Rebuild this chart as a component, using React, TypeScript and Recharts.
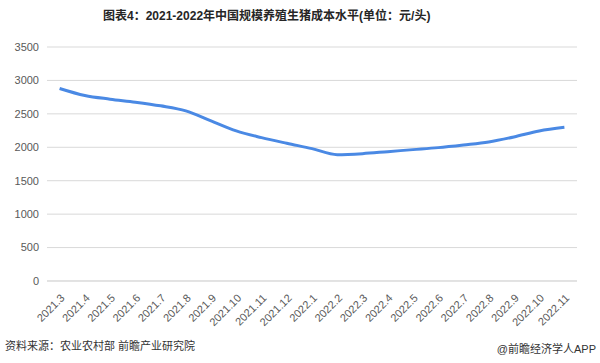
import { LineChart, Line, XAxis, YAxis, CartesianGrid } from "recharts";

const months = [
  "2021.3", "2021.4", "2021.5", "2021.6", "2021.7", "2021.8", "2021.9",
  "2021.10", "2021.11", "2021.12", "2022.1", "2022.2", "2022.3", "2022.4",
  "2022.5", "2022.6", "2022.7", "2022.8", "2022.9", "2022.10", "2022.11"
];

const cost = [
  2880, 2775, 2720, 2675, 2620, 2545, 2395,
  2245, 2145, 2060, 1980, 1890, 1905, 1935,
  1965, 1995, 2035, 2080, 2155, 2245, 2300
];

const yTicks = [0, 500, 1000, 1500, 2000, 2500, 3000, 3500];

const title = "图表4：2021-2022年中国规模养殖生猪成本水平(单位：元/头)";
const source = "资料来源：农业农村部 前瞻产业研究院";
const brand = "@前瞻经济学人APP";

const FONT = "'Liberation Sans', 'Noto Sans CJK SC', sans-serif";

const data = months.map((m, i) => ({ month: m, value: cost[i] }));

function XTick({ x, y, payload }: any) {
  return (
    <g transform={`translate(${x + 3},${y + 7})`}>
      <text
        x={0}
        y={0}
        dy="0.35em"
        textAnchor="end"
        fill="#595959"
        fontSize={11}
        fontFamily={FONT}
        transform="rotate(-45)"
      >
        {payload.value}
      </text>
    </g>
  );
}

export default function App() {
  return (
    <div
      style={{
        position: "fixed",
        left: 0,
        top: 0,
        width: 600,
        height: 363,
        background: "#ffffff",
        fontFamily: FONT
      }}
    >
      <div
        style={{
          position: "absolute",
          top: 6,
          left: 103,
          whiteSpace: "nowrap",
          fontSize: 12,
          fontWeight: "bold",
          color: "#262626"
        }}
      >
        {title}
      </div>

      <LineChart
        width={600}
        height={363}
        data={data}
        margin={{ top: 47, right: 23, bottom: 30, left: 7 }}
      >
        <CartesianGrid vertical={false} stroke="#d9d9d9" />
        <XAxis
          dataKey="month"
          axisLine={{ stroke: "#d9d9d9" }}
          tickLine={false}
          interval={0}
          height={52}
          padding={{ left: 12.6, right: 12.6 }}
          tick={<XTick />}
        />
        <YAxis
          domain={[0, 3500]}
          ticks={yTicks}
          axisLine={false}
          tickLine={false}
          width={40}
          tick={{ fill: "#595959", fontSize: 11, fontFamily: FONT }}
        />
        <Line
          type="monotone"
          dataKey="value"
          stroke="#4a89e4"
          strokeWidth={3}
          dot={false}
          isAnimationActive={false}
        />
      </LineChart>

      <div
        style={{
          position: "absolute",
          left: 5,
          top: 337,
          fontSize: 11,
          color: "#333333"
        }}
      >
        {source}
      </div>
      <div
        style={{
          position: "absolute",
          right: 4,
          top: 340,
          fontSize: 11,
          color: "#333333"
        }}
      >
        {brand}
      </div>
    </div>
  );
}
